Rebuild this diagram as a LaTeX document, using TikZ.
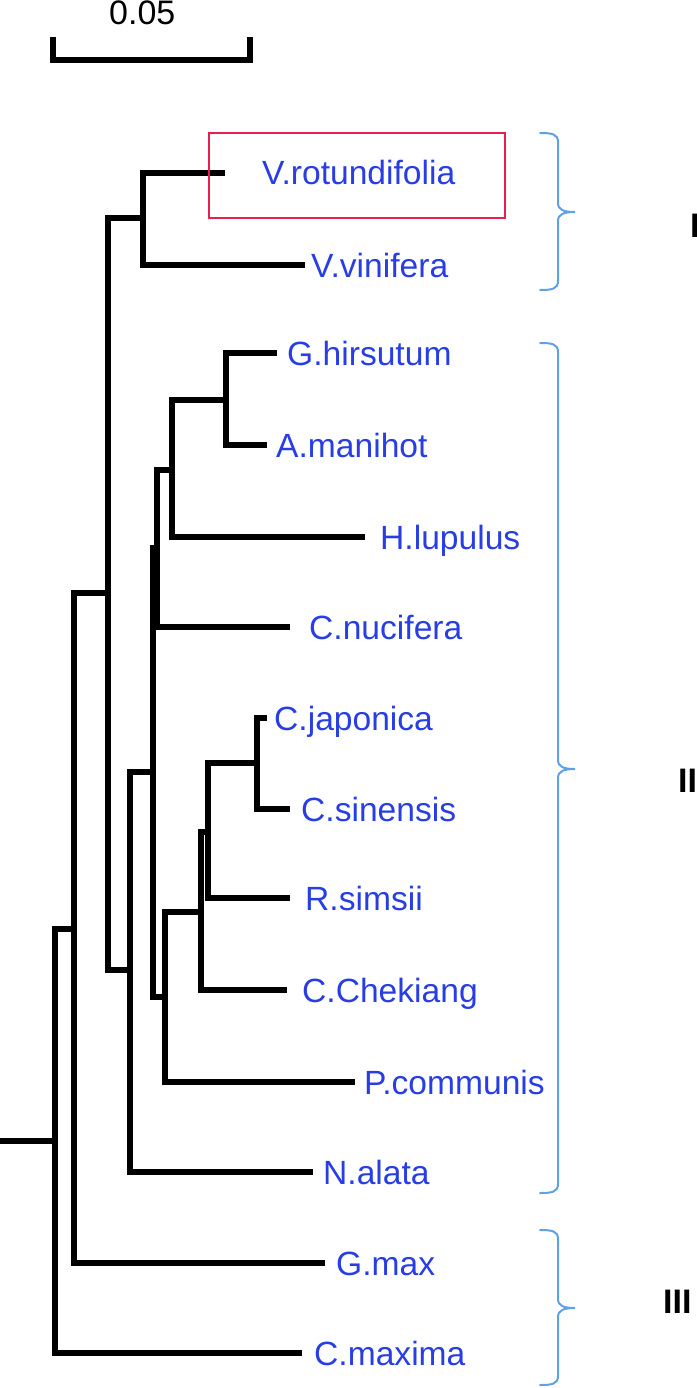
\documentclass[tikz,border=0pt]{standalone}
\usepackage{fontspec}
\setmainfont{Liberation Sans}
\definecolor{labelblue}{RGB}{40,62,228}
\definecolor{bracecol}{RGB}{95,160,232}
\definecolor{boxred}{RGB}{232,32,82}
\tikzset{
  branch/.style={line width=5.2pt, black, line join=miter, line cap=butt},
  leaf/.style={anchor=base west, inner sep=0pt, text=labelblue, font=\fontsize{33.6}{36}\selectfont},
  grouplabel/.style={anchor=base west, inner sep=0pt, font=\fontsize{34}{36}\selectfont\bfseries},
  bracepath/.style={line width=2pt, bracecol, line cap=round},
  redbox/.style={line width=2pt, boxred},
  scalebar/.style={line width=5.2pt, black, line join=miter},
}
\newcommand{\cladebrace}[3]{%
  \draw[bracepath] (540,#1) .. controls (552,#1) and (558,#1+1) .. (558,#1+9)
    -- (558,#2-9) .. controls (558,#2-2) and (564,#2) .. (575,#2)
    .. controls (564,#2) and (558,#2+2) .. (558,#2+9)
    -- (558,#3-9) .. controls (558,#3-1) and (552,#3) .. (540,#3);}
\begin{document}
\begin{tikzpicture}[x=1pt,y=-1pt]
\useasboundingbox (0,0) rectangle (696,1388);
% scale bar
\coordinate (sb1) at (53,37);
\coordinate (sb2) at (53,60);
\coordinate (sb3) at (250,60);
\coordinate (sb4) at (250,37);
\draw[scalebar] (sb1) -- (sb2) -- (sb3) -- (sb4);
\node[anchor=base west, inner sep=0pt, font=\fontsize{34}{36}\selectfont] (sblabel) at (109,25) {0.05};
% internal nodes
\coordinate (rootstart) at (0,1141);
\coordinate (r0) at (55,1141);
\coordinate (n1) at (74,929);
\coordinate (n2) at (108,593);
\coordinate (vit) at (143,218);
\coordinate (n3) at (130,970);
\coordinate (n4) at (153,772);
\coordinate (n5) at (157,548);
\coordinate (n7) at (172,470);
\coordinate (n8) at (226,400);
\coordinate (n6) at (165,997);
\coordinate (n9) at (201,912);
\coordinate (n10) at (208,832);
\coordinate (n11) at (257,763);
% leaf tips
\coordinate (tvrot) at (225,173);
\coordinate (tvvin) at (305,265);
\coordinate (tghir) at (277,353);
\coordinate (taman) at (267,445);
\coordinate (thlup) at (365,537);
\coordinate (tcnuc) at (290,627);
\coordinate (tcjap) at (267,718);
\coordinate (tcsin) at (290,809);
\coordinate (trsim) at (290,898);
\coordinate (tcche) at (287,990);
\coordinate (tpcom) at (355,1082);
\coordinate (tnala) at (313,1172);
\coordinate (tgmax) at (325,1263);
\coordinate (tcmax) at (302,1353);
% labels
\node[leaf] (lvrot) at (262,185) {V.rotundifolia};
\node[leaf] (lvvin) at (311,277) {V.vinifera};
\node[leaf] (lghir) at (287,365) {G.hirsutum};
\node[leaf] (laman) at (276,457) {A.manihot};
\node[leaf] (lhlup) at (380,549) {H.lupulus};
\node[leaf] (lcnuc) at (309,639) {C.nucifera};
\node[leaf] (lcjap) at (274,730) {C.japonica};
\node[leaf] (lcsin) at (301,821) {C.sinensis};
\node[leaf] (lrsim) at (305,910) {R.simsii};
\node[leaf] (lcche) at (302,1002) {C.Chekiang};
\node[leaf] (lpcom) at (364,1094) {P.communis};
\node[leaf] (lnala) at (323,1184) {N.alata};
\node[leaf] (lgmax) at (336,1275) {G.max};
\node[leaf] (lcmax) at (314,1365) {C.maxima};
% branches
\draw[branch] (rootstart) -- (r0);
\draw[branch] (r0) |- (n1);
\draw[branch] (r0) |- (tcmax);
\draw[branch] (n1) |- (n2);
\draw[branch] (n1) |- (tgmax);
\draw[branch] (n2) |- (vit);
\draw[branch] (n2) |- (n3);
\draw[branch] (vit) |- (tvrot);
\draw[branch] (vit) |- (tvvin);
\draw[branch] (n3) |- (n4);
\draw[branch] (n3) |- (tnala);
\draw[branch] (n4) |- (n5);
\draw[branch] (n4) |- (n6);
\draw[branch] (n5) |- (n7);
\draw[branch] (n5) |- (tcnuc);
\draw[branch] (n7) |- (n8);
\draw[branch] (n7) |- (thlup);
\draw[branch] (n8) |- (tghir);
\draw[branch] (n8) |- (taman);
\draw[branch] (n6) |- (n9);
\draw[branch] (n6) |- (tpcom);
\draw[branch] (n9) |- (n10);
\draw[branch] (n9) |- (tcche);
\draw[branch] (n10) |- (n11);
\draw[branch] (n10) |- (trsim);
\draw[branch] (n11) |- (tcjap);
\draw[branch] (n11) |- (tcsin);
% highlight box
\coordinate (box1) at (209,133);
\coordinate (box2) at (505,218);
\draw[redbox] (box1) rectangle (box2);
% clade braces
\cladebrace{133}{212}{290}
\cladebrace{343}{769}{1193}
\cladebrace{1230}{1308}{1385}
\node[grouplabel] (gI) at (690,238) {I};
\node[grouplabel] (gII) at (678,792) {II};
\node[grouplabel] (gIII) at (663,1313) {III};
\end{tikzpicture}
\end{document}
